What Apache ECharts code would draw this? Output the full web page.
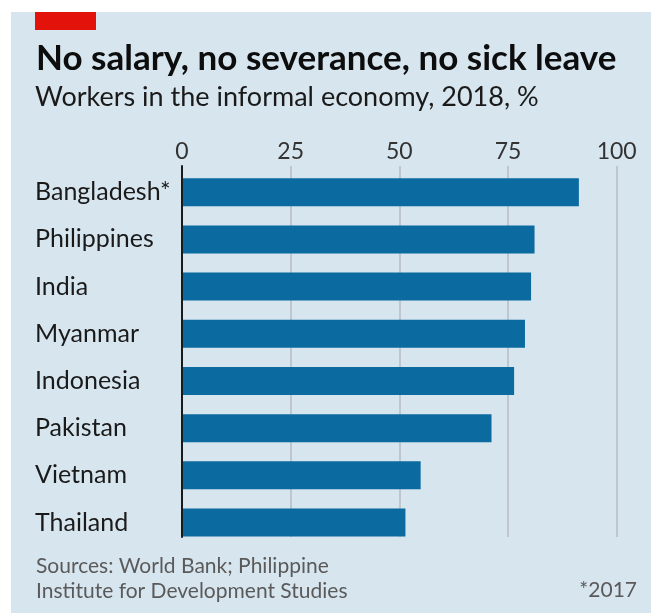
<!DOCTYPE html>
<html>
<head>
<meta charset="utf-8">
<script src="https://cdn.jsdelivr.net/npm/echarts@6/dist/echarts.min.js"></script>
<style>html,body{margin:0;padding:0;background:#fff;}#c{width:651px;height:613px;}</style>
</head>
<body>
<div id="c"></div>
<script>
var categories = ['Bangladesh*', 'Philippines', 'India', 'Myanmar', 'Indonesia', 'Pakistan', 'Vietnam', 'Thailand'];
var values = [91.3, 81.1, 80.3, 78.9, 76.4, 71.2, 54.9, 51.4];
var tickValues = [0, 25, 50, 75, 100];

var FONT = 'Lato';
var chart = echarts.init(document.getElementById('c'), null, {renderer: 'canvas'});
var option = {
  backgroundColor: '#ffffff',
  animation: false,
  graphic: [
    {type: 'rect', z: -10, shape: {x: 11, y: 12, width: 640, height: 601}, style: {fill: '#d7e5ee'}},
    {type: 'rect', z: 10, shape: {x: 35, y: 12, width: 61, height: 18}, style: {fill: '#e3120b'}}
  ],
  title: [
    {text: 'No salary, no severance, no sick leave', left: 31, top: 36,
     textStyle: {fontFamily: FONT, fontWeight: 'bold', fontSize: 35, color: '#0d0d0d'}},
    {text: 'Workers in the informal economy, 2018, %', left: 30, top: 79,
     textStyle: {fontFamily: FONT, fontWeight: 'normal', fontSize: 27, color: '#1a1a1a'}},
    {text: 'Sources: World Bank; Philippine\nInstitute for Development Studies', left: 31, top: 549,
     textStyle: {fontFamily: FONT, fontWeight: 'normal', fontSize: 21, lineHeight: 25, color: '#5a5a5a'}},
    {text: '*2017', right: 9, top: 575,
     textStyle: {fontFamily: FONT, fontWeight: 'normal', fontSize: 21, color: '#5a5a5a'}}
  ],
  grid: [
    {left: 182, right: 34.3, top: 166, height: 371},
    {left: 182, right: 34.3, top: 168.6, height: 377.5}
  ],
  xAxis: [
    {gridIndex: 0, type: 'value', min: 0, max: 100, interval: 25, position: 'top',
     axisLine: {show: false}, axisTick: {show: false},
     axisLabel: {show: true, margin: 3, fontFamily: FONT, fontSize: 23, color: '#333333',
       formatter: function (v) { return tickValues.indexOf(v) >= 0 ? String(v) : ''; }},
     splitLine: {show: true, lineStyle: {color: '#b4bcc2', width: 1.5}}},
    {gridIndex: 1, type: 'value', min: 0, max: 100, interval: 25, show: false}
  ],
  yAxis: [
    {gridIndex: 0, type: 'value', min: 0, max: 1, z: 10,
     axisLine: {show: true, lineStyle: {color: '#1a1a1a', width: 2}},
     axisTick: {show: false}, axisLabel: {show: false}, splitLine: {show: false}},
    {gridIndex: 1, type: 'category', data: categories, inverse: true,
     axisLine: {show: false}, axisTick: {show: false},
     axisLabel: {align: 'left', margin: 147, fontFamily: FONT, fontSize: 25, color: '#1a1a1a'}}
  ],
  series: [
    {type: 'bar', xAxisIndex: 1, yAxisIndex: 1, data: values, barWidth: 28,
     itemStyle: {color: '#0b6aa0'}, silent: true}
  ]
};
chart.setOption(option);
</script>
</body>
</html>
